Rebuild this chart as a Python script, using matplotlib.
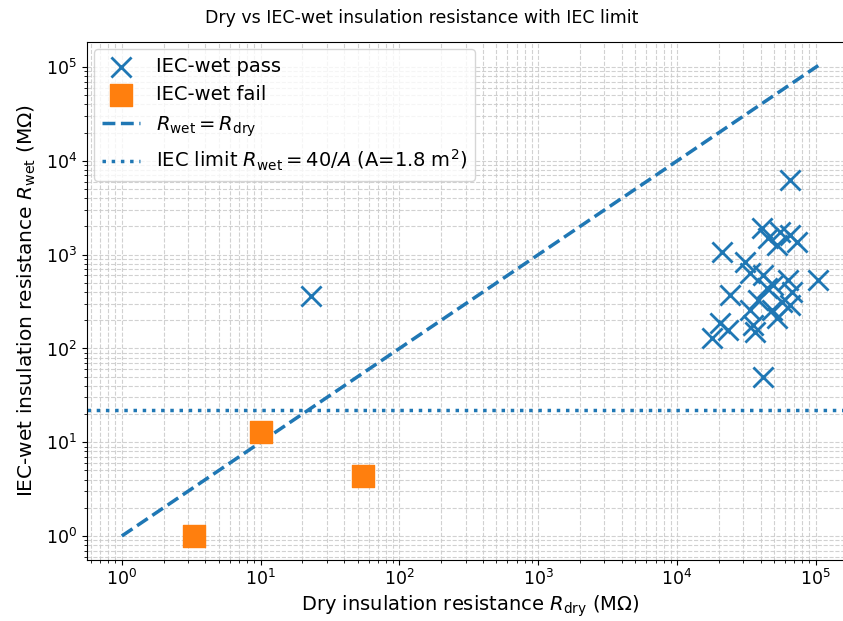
import matplotlib
matplotlib.use("Agg")
import matplotlib.pyplot as plt
import numpy as np

# dry / IEC-wet insulation resistance readings (MOhm)
pass_dry = [65500, 41100, 55400, 65500, 45400, 52700, 73500, 21100, 33700, 41800,
            49300, 63300, 104000, 24100, 44700, 38400, 57300, 67600, 33700, 48500,
            20400, 35400, 23400, 36600, 17900, 41800, 65500, 52700, 31000, 23]
pass_wet = [6240, 1920, 1740, 1620, 1500, 1270, 1360, 1070, 637, 606,
            474, 536, 536, 371, 440, 328, 313, 399, 257, 257,
            187, 177, 157, 150, 129, 49.5, 290, 211, 834, 360]

fail_dry = [3.3, 10, 55]
fail_wet = [1.0, 12.8, 4.4]

area = 1.8
iec_limit = 40 / area

fig = plt.figure(figsize=(8.43, 6.21), dpi=100)
ax = fig.add_axes([0.1032, 0.099, 0.9087, 0.8333])

ax.scatter(pass_dry, pass_wet, marker="x", s=210, linewidths=2, color="C0",
           label="IEC-wet pass", zorder=3)
ax.scatter(fail_dry, fail_wet, marker="s", s=230, color="C1",
           label="IEC-wet fail", zorder=3)

line = np.array([1, max(pass_dry)])
ax.plot(line, line, "--", color="C0", lw=2.5, label=r"$R_{\rm wet} = R_{\rm dry}$")
ax.axhline(iec_limit, ls=":", color="C0", lw=2.5,
           label=r"IEC limit $R_{\rm wet} = 40/A$ (A=%.1f m$^2$)" % area)

ax.set_xscale("log")
ax.set_yscale("log")
ax.grid(True, which="both", ls="--", lw=0.8, color="#cccccc", alpha=0.9)

ax.set_xlabel(r"Dry insulation resistance $R_{\rm dry}$ (M$\Omega$)", fontsize=14, labelpad=3)
ax.set_ylabel(r"IEC-wet insulation resistance $R_{\rm wet}$ (M$\Omega$)", fontsize=14.5, labelpad=6)
ax.tick_params(labelsize=12.5)
fig.text(0.5, 1 - 18 / 621, "Dry vs IEC-wet insulation resistance with IEC limit",
         ha="center", va="center", fontsize=12.5)

ax.legend(loc="upper left", fontsize=14, borderaxespad=0.35)

fig.savefig("out.png", dpi=100)
